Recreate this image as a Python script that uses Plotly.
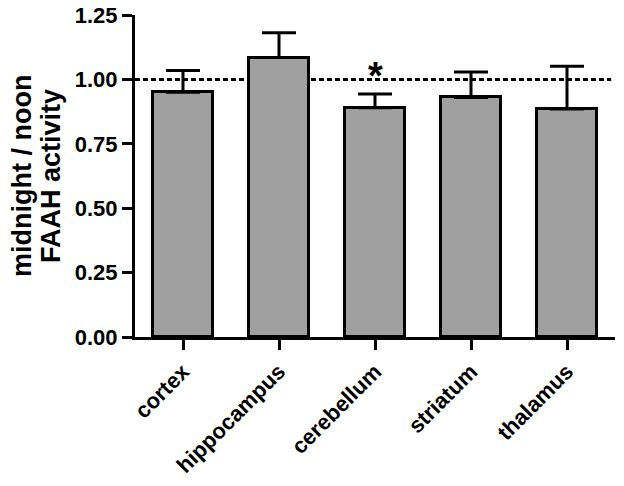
import plotly.graph_objects as go

regions = ["cortex", "hippocampus", "cerebellum", "striatum", "thalamus"]
ratio_mean = [0.95, 1.085, 0.89, 0.93, 0.885]
ratio_sem = [0.085, 0.096, 0.053, 0.099, 0.166]
y_ticks = [0.0, 0.25, 0.5, 0.75, 1.0, 1.25]
y_tick_labels = ["0.00", "0.25", "0.50", "0.75", "1.00", "1.25"]
reference_level = 1.0
signif_region = "cerebellum"
signif_y = 1.012

FONT = "Liberation Sans, Arial, sans-serif"

fig = go.Figure()
fig.add_trace(go.Bar(
    x=list(range(len(regions))),
    y=ratio_mean,
    width=0.635,
    marker=dict(color="#a0a0a0", line=dict(color="black", width=3)),
    error_y=dict(type="data", symmetric=False, array=ratio_sem,
                 arrayminus=[0] * len(ratio_sem),
                 color="black", thickness=3, width=17),
    showlegend=False,
))

fig.add_shape(type="line", xref="paper", yref="y", x0=0, x1=0.992,
              y0=reference_level, y1=reference_level, layer="below",
              line=dict(color="black", width=3, dash="5px,3px"))

fig.add_annotation(x=regions.index(signif_region), y=signif_y, xref="x", yref="y",
                   text="<b>*</b>", showarrow=False, yanchor="middle",
                   font=dict(family=FONT, size=38, color="black"))

fig.add_annotation(xref="paper", yref="paper", x=0, y=0.5, xshift=-113,
                   text="midnight / noon", textangle=-90, showarrow=False,
                   xanchor="center", yanchor="middle",
                   font=dict(family=FONT, size=27, color="black", weight="bold"))
fig.add_annotation(xref="paper", yref="paper", x=0, y=0.5, xshift=-84,
                   text="FAAH activity", textangle=-90, showarrow=False,
                   xanchor="center", yanchor="middle",
                   font=dict(family=FONT, size=27, color="black", weight="bold"))

fig.update_xaxes(
    range=[-0.5, 4.5], automargin=False,
    tickmode="array", tickvals=list(range(len(regions))), ticktext=regions,
    tickangle=-45, ticklabeloverflow="allow",
    ticks="outside", ticklen=10, tickwidth=3, tickcolor="black",
    showline=True, linewidth=3, linecolor="black",
    showgrid=False, zeroline=False,
    tickfont=dict(family=FONT, size=22, color="black", weight="bold"),
)
fig.update_yaxes(
    range=[0, 1.25], automargin=False,
    tickmode="array", tickvals=y_ticks, ticktext=y_tick_labels,
    ticklabeloverflow="allow",
    ticks="outside", ticklen=10, tickwidth=3, tickcolor="black",
    showline=True, linewidth=3, linecolor="black",
    showgrid=False, zeroline=False,
    tickfont=dict(family=FONT, size=22, color="black", weight="bold"),
)

fig.update_layout(
    width=624, height=486,
    margin=dict(l=135, r=9, t=15, b=149, autoexpand=False),
    plot_bgcolor="white", paper_bgcolor="white",
    bargap=0,
)

fig.write_html("out.html", config={"displayModeBar": False},
               post_script="document.body.style.margin='0';")
